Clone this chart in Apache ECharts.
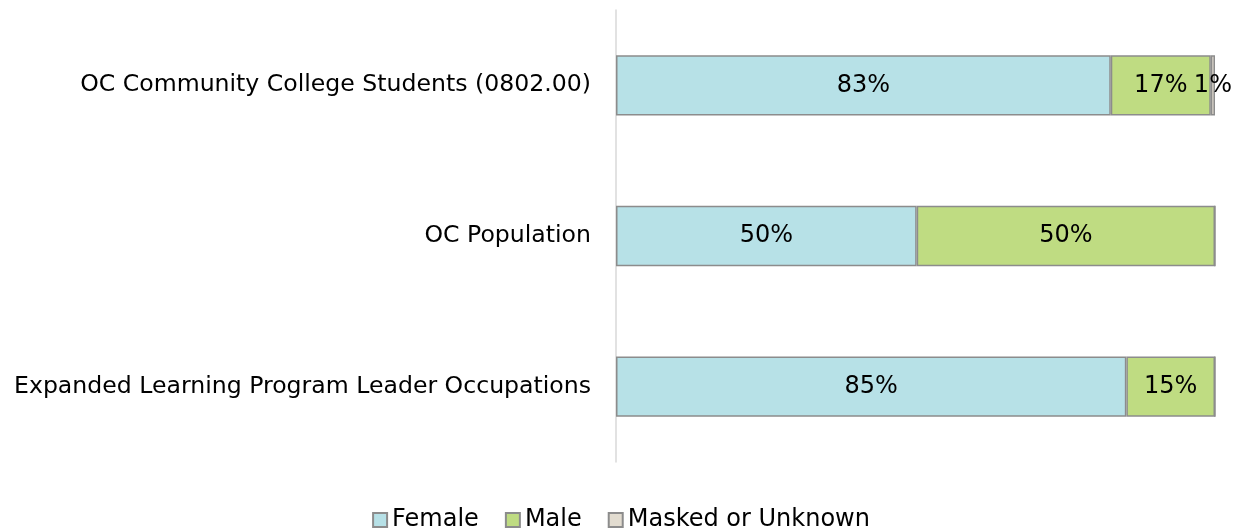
<!DOCTYPE html>
<html>
<head>
<meta charset="utf-8">
<script src="https://cdn.jsdelivr.net/npm/echarts@6/dist/echarts.min.js"></script>
<style>
  html, body { margin: 0; padding: 0; background: #fff; }
  #chart { width: 1242px; height: 529px; }
</style>
</head>
<body>
<div id="chart"></div>
<script>
// categories, top to bottom
const categories = [
  'OC Community College Students (0802.00)',
  'OC Population',
  'Expanded Learning Program Leader Occupations',
];
const female = [82.6, 50.2, 85.2];
const male = [16.7, 49.8, 14.8];
const masked = [0.7, 0, 0];

const font = 'DejaVu Sans';

const chart = echarts.init(document.getElementById('chart'));

function makeSeries(name, data, color) {
  return {
    name: name,
    type: 'bar',
    stack: 'total',
    data: data,
    barCategoryGap: '60%',
    itemStyle: { color: color, borderColor: '#8c8c8c', borderWidth: 1.5 },
    label: {
      show: true,
      position: 'inside',
      color: '#000',
      fontFamily: font,
      fontSize: 24,
      formatter: (p) => (p.value > 0 ? Math.round(p.value) + '%' : ''),
    },
  };
}

chart.setOption({
  animation: false,
  textStyle: { fontFamily: font },
  grid: { left: 616, right: 27, top: 10, bottom: 67 },
  xAxis: {
    type: 'value',
    min: 0,
    max: 100,
    show: false,
  },
  yAxis: {
    type: 'category',
    inverse: true,
    data: categories,
    axisLine: { show: true, lineStyle: { color: '#d9d9d9', width: 1.5 } },
    axisTick: { show: false },
    axisLabel: { color: '#000', fontSize: 23.6, fontFamily: font, margin: 25 },
  },
  legend: {
    top: 503,
    left: 'center',
    icon: 'rect',
    itemWidth: 14,
    itemHeight: 14,
    itemGap: 26,
    itemStyle: { borderColor: '#8c8c8c', borderWidth: 2 },
    textStyle: { color: '#000', fontSize: 24, fontFamily: font, padding: [0, 0, 0, 0] },
    data: ['Female', 'Male', 'Masked or Unknown'],
  },
  series: [
    makeSeries('Female', female, '#b7e1e7'),
    makeSeries('Male', male, '#bfdc82'),
    makeSeries('Masked or Unknown', masked, '#e2dcd0'),
  ],
});
</script>
</body>
</html>
